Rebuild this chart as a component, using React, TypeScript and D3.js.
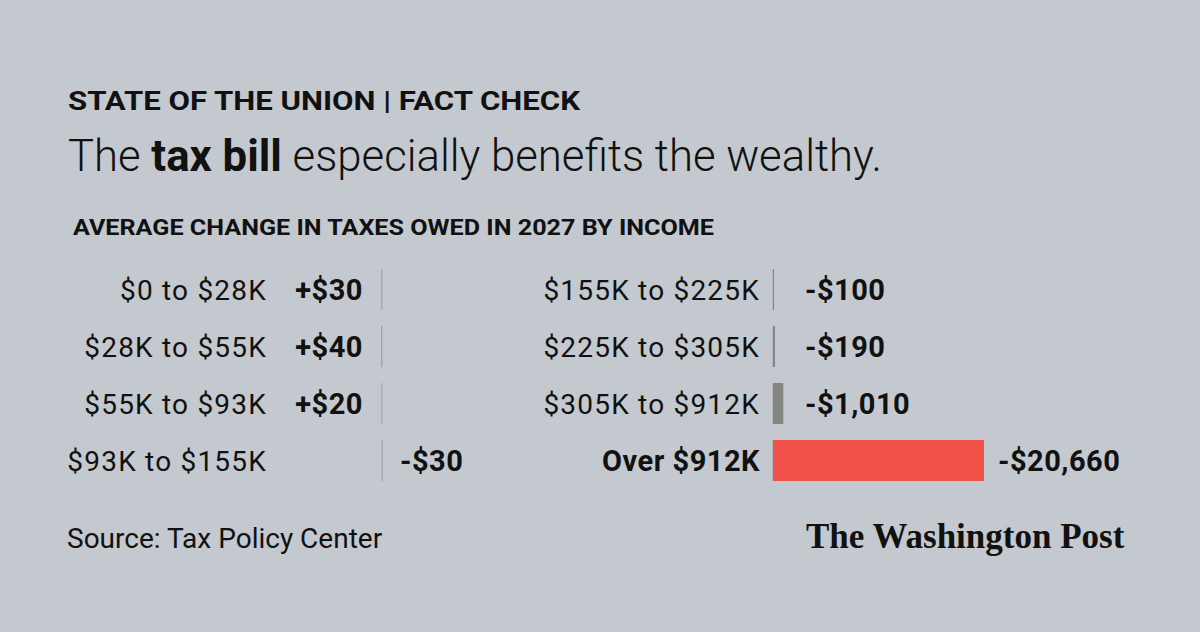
import React from "react";
import * as d3 from "d3";

const W = 1200;
const H = 632;

const leftCategories = ["$0 to $28K", "$28K to $55K", "$55K to $93K", "$93K to $155K"];
const leftValues = [30, 40, 20, -30];
const rightCategories = ["$155K to $225K", "$225K to $305K", "$305K to $912K", "Over $912K"];
const rightValues = [-100, -190, -1010, -20660];
const highlightCategory = "Over $912K";

const kicker = "STATE OF THE UNION | FACT CHECK";
const titleParts = [
  { text: "The ", bold: false },
  { text: "tax bill", bold: true },
  { text: " especially benefits the wealthy.", bold: false },
];
const subtitle = "AVERAGE CHANGE IN TAXES OWED IN 2027 BY INCOME";
const source = "Source: Tax Policy Center";
const logo = "The Washington Post";

const BG = "#c4c8cf";
const INK = "#111111";
const FONT = "Roboto, 'Liberation Sans', sans-serif";

const fmt = (v: number) => (v > 0 ? "+$" : "-$") + d3.format(",")(Math.abs(v));

// magnitude scale: tax cut (negative) extends to the right
const x = d3.scaleLinear().domain([0, -20660]).range([0, 211]);
const y = d3.scaleBand<number>().domain([0, 1, 2, 3]).range([269, 481]).paddingInner(0.28).paddingOuter(0);

type PanelProps = {
  cats: string[];
  vals: number[];
  zero: number;
  labelRight: number;
  minOffset: number;
  posOffset: number;
};

function Panel({ cats, vals, zero, labelRight, minOffset, posOffset }: PanelProps) {
  return (
    <g>
      {cats.map((c, i) => {
        const v = vals[i];
        const top = y(i) as number;
        const bh = y.bandwidth();
        const cy = top + bh / 2;
        const w = Math.abs(x(v));
        const bx = v < 0 ? zero : zero - w;
        const hl = c === highlightCategory;
        const endX = v < 0 ? zero + w : zero - w;
        const valX = v < 0 ? Math.max(zero + minOffset, endX + 14) : zero - posOffset;
        return (
          <g key={c}>
            <line x1={zero} x2={zero} y1={top} y2={top + bh} stroke="#a7abb2" strokeWidth={1} />
            <rect x={bx} y={top} width={Math.max(w, 0)} height={bh} fill={hl ? "#f0524a" : "#85867f"} />
            <text
              x={labelRight}
              y={cy}
              dy="0.36em"
              textAnchor="end"
              fontFamily={FONT}
              fontSize={hl ? 29 : 28}
              fontWeight={hl ? 700 : 400}
              letterSpacing={hl ? 0.5 : 1.2}
              fill={INK}
            >
              {c}
            </text>
            <text
              x={valX}
              y={cy}
              dy="0.36em"
              textAnchor={v < 0 ? "start" : "end"}
              fontFamily={FONT}
              fontSize={29}
              fontWeight={700}
              letterSpacing={0.5}
              fill={INK}
            >
              {fmt(v)}
            </text>
          </g>
        );
      })}
    </g>
  );
}

export default function App() {
  return (
    <svg
      width={W}
      height={H}
      viewBox={`0 0 ${W} ${H}`}
      style={{ position: "fixed", left: 0, top: 0, display: "block" }}
    >
      <rect width={W} height={H} fill={BG} />
      <text
        x={68}
        y={110}
        fontFamily={FONT}
        fontWeight={700}
        fontSize={25}
        fill={INK}
        textLength={512}
        lengthAdjust="spacingAndGlyphs"
      >
        {kicker}
      </text>
      <text
        x={68}
        y={171}
        fontFamily={FONT}
        fontSize={45}
        fill={INK}
        textLength={814}
        lengthAdjust="spacingAndGlyphs"
      >
        {titleParts.map((p, i) => (
          <tspan key={i} fontWeight={p.bold ? 700 : 300}>
            {p.text}
          </tspan>
        ))}
      </text>
      <text
        x={73}
        y={235}
        fontFamily={FONT}
        fontWeight={700}
        fontSize={22}
        fill={INK}
        textLength={641}
        lengthAdjust="spacingAndGlyphs"
      >
        {subtitle}
      </text>
      <Panel cats={leftCategories} vals={leftValues} zero={382} labelRight={267} minOffset={18} posOffset={19} />
      <Panel cats={rightCategories} vals={rightValues} zero={773} labelRight={760} minOffset={32} posOffset={19} />
      <text x={67} y={548} fontFamily={FONT} fontSize={28} fill={INK}>
        {source}
      </text>
      <text
        x={806}
        y={548}
        fontFamily="'Liberation Serif', serif"
        fontWeight={700}
        fontSize={35}
        fill={INK}
      >
        {logo}
      </text>
    </svg>
  );
}
